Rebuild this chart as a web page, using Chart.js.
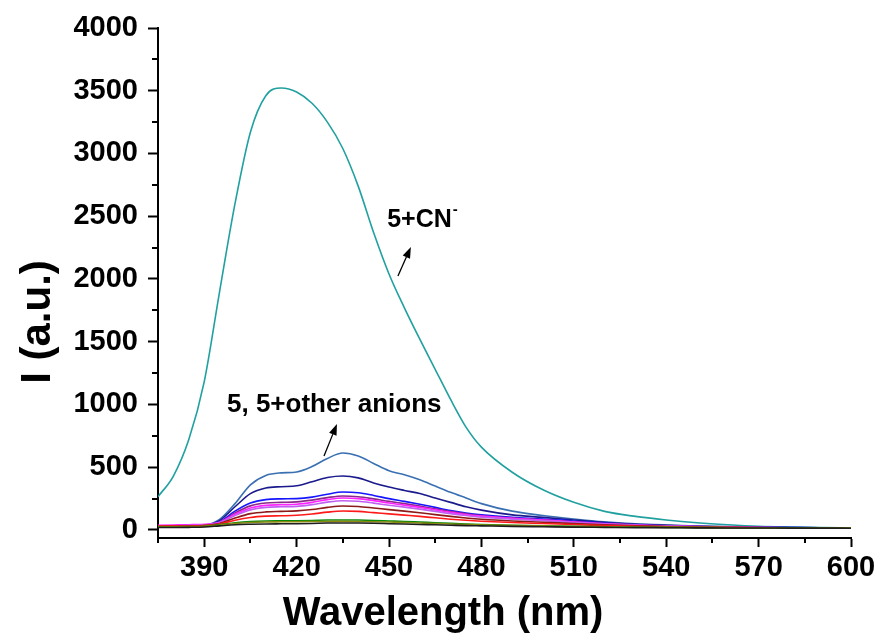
<!DOCTYPE html>
<html>
<head>
<meta charset="utf-8">
<script src="https://cdn.jsdelivr.net/npm/chart.js@4.4.1/dist/chart.umd.min.js"></script>
<style>
  html, body { margin: 0; padding: 0; background: #fff; }
  #wrap { width: 881px; height: 641px; position: relative; }
</style>
</head>
<body>
<div id="wrap"><canvas id="c" width="881" height="641"></canvas></div>
<script>
// ---- data ----
const wavelengths = [375,380,385,390,395,400,405,410,415,420,425,430,435,440,445,450,455,460,465,470,475,480,490,500,510,520,530,540,550,560,570,580,590,600];

const sCN      = [265,430,720,1180,1900,2600,3170,3460,3522,3490,3400,3250,3040,2740,2370,2040,1770,1520,1280,1040,820,660,460,320,220,148,108,80,58,42,30,24,20,17];
const sSteel   = [22,22,25,35,85,210,360,435,455,462,505,570,613,590,530,472,440,400,350,300,255,210,150,115,88,65,50,40,32,27,23,20,18,17];
const sNavy    = [22,22,25,33,75,185,290,335,345,352,385,418,430,415,375,342,315,290,255,220,185,158,120,100,80,60,45,37,30,25,22,19,17,16];
const sBlue    = [25,26,28,35,65,150,215,242,248,250,262,285,302,296,275,250,228,205,180,155,135,120,100,88,70,55,42,34,28,24,21,19,17,16];
const sPurple  = [28,29,30,36,60,135,192,215,220,224,238,258,271,265,248,228,210,190,168,146,128,113,95,82,66,52,40,33,27,23,20,18,17,16];
const sMagenta = [38,40,42,46,62,125,175,196,201,205,220,242,255,250,234,215,198,180,160,140,123,110,92,79,64,50,39,32,27,23,20,18,17,16];
const sViolet  = [32,33,35,40,58,115,160,180,185,188,202,222,233,229,214,197,182,166,148,130,115,102,86,74,60,47,37,31,26,22,19,18,17,16];
const sMaroon  = [30,31,32,36,52,95,130,144,148,152,163,180,191,187,175,162,150,137,122,108,96,86,72,62,51,41,33,28,24,21,19,17,16,15];
const sRed     = [30,31,32,35,48,78,100,110,113,117,127,142,151,148,138,128,118,108,97,86,77,70,59,51,43,35,29,25,22,20,18,17,16,15];
const sGreen   = [26,26,27,30,42,58,68,72,73,74,76,79,80,79,76,72,68,63,58,53,48,44,38,33,29,26,23,21,19,18,17,16,16,15];
const sOlive   = [24,24,25,28,38,52,60,64,65,66,67,68,69,68,66,63,59,55,51,47,43,40,35,31,27,24,22,20,19,18,17,16,15,15];
const sBlack   = [20,20,21,24,33,42,46,48,49,50,52,55,56,55,53,50,47,44,41,38,35,33,29,26,23,21,19,18,17,16,16,15,15,14];

const seriesNames  = ['5+CN-','s1','s2','s3','s4','s5','s6','s7','s8','s9','s10','s11'];
const seriesValues = [sCN, sSteel, sNavy, sBlue, sPurple, sMagenta, sViolet, sMaroon, sRed, sGreen, sOlive, sBlack];
const seriesColors = ['#21a0a0','#3a70b2','#1a1a8c','#1515ff','#8a2a8a','#ff22ff','#c060f0','#8b1a1a','#ff1a1a','#0a8a0a','#8a8a10','#1e1e1e'];

const xTickValues = [390,420,450,480,510,540,570,600];
const yTickValues = [0,500,1000,1500,2000,2500,3000,3500,4000];

const xTitle = 'Wavelength (nm)';
const yTitle = 'I (a.u.)';
const FONT = '"Liberation Sans", Arial, Helvetica, sans-serif';

// annotation anchors in data coordinates
const notes = [
  { text: '5+CN', sup: '-', x: 449.4, y: 2414, size: 25 },
  { text: '5, 5+other anions', x: 397.4, y: 940, size: 26 }
];
const arrows = [
  { x0: 452.9, y0: 2024, x1: 457.1, y1: 2255 },
  { x0: 428.9, y0: 590,  x1: 433.1, y1: 845 }
];

const datasets = seriesValues.map((vals, i) => ({
  label: seriesNames[i],
  data: wavelengths.map((w, k) => ({ x: w, y: vals[k] })),
  borderColor: seriesColors[i],
  backgroundColor: seriesColors[i],
  borderWidth: 1.6,
  pointRadius: 0,
  fill: false,
  cubicInterpolationMode: 'monotone'
})).reverse();

const extras = {
  id: 'extras',
  afterDraw(chart) {
    const ctx = chart.ctx;
    const xs = chart.scales.x, ys = chart.scales.y;
    ctx.save();
    ctx.strokeStyle = '#000';
    ctx.lineWidth = 2;
    // minor ticks
    for (let v = 250; v < 4000; v += 500) {
      const py = Math.round(ys.getPixelForValue(v));
      ctx.beginPath(); ctx.moveTo(xs.left - 6, py); ctx.lineTo(xs.left, py); ctx.stroke();
    }
    for (let v = 375; v < 600; v += 30) {
      const px = Math.round(xs.getPixelForValue(v));
      ctx.beginPath(); ctx.moveTo(px, ys.bottom); ctx.lineTo(px, ys.bottom + 5); ctx.stroke();
    }
    // axis titles
    ctx.fillStyle = '#000';
    ctx.font = 'bold 40px ' + FONT;
    ctx.textAlign = 'center';
    ctx.textBaseline = 'alphabetic';
    ctx.fillText(xTitle, 443, 625);
    ctx.save();
    ctx.translate(50, 322);
    ctx.rotate(-Math.PI / 2);
    ctx.font = 'bold 42px ' + FONT;
    ctx.fillText(yTitle, 0, 0);
    ctx.restore();
    // annotations
    ctx.textAlign = 'left';
    notes.forEach(n => {
      const px = xs.getPixelForValue(n.x), py = ys.getPixelForValue(n.y);
      ctx.font = 'bold ' + n.size + 'px ' + FONT;
      ctx.fillText(n.text, px, py);
      if (n.sup) {
        const w = ctx.measureText(n.text).width;
        ctx.font = 'bold 15px ' + FONT;
        ctx.fillText(n.sup, px + w + 1, py - 13);
      }
    });
    // arrows
    ctx.lineWidth = 1.3;
    arrows.forEach(a => {
      const x0 = xs.getPixelForValue(a.x0), y0 = ys.getPixelForValue(a.y0);
      const x1 = xs.getPixelForValue(a.x1), y1 = ys.getPixelForValue(a.y1);
      const ang = Math.atan2(y1 - y0, x1 - x0);
      const hl = 11, hw = 4;
      const bx = x1 - hl * Math.cos(ang), by = y1 - hl * Math.sin(ang);
      ctx.beginPath(); ctx.moveTo(x0, y0); ctx.lineTo(bx, by); ctx.stroke();
      ctx.beginPath();
      ctx.moveTo(x1, y1);
      ctx.lineTo(bx + hw * Math.sin(ang), by - hw * Math.cos(ang));
      ctx.lineTo(bx - hw * Math.sin(ang), by + hw * Math.cos(ang));
      ctx.closePath(); ctx.fill();
    });
    ctx.restore();
  }
};

new Chart(document.getElementById('c'), {
  type: 'line',
  data: { datasets },
  options: {
    responsive: false,
    animation: false,
    layout: { padding: { left: 0, right: 30, top: 28, bottom: 0 } },
    plugins: { legend: { display: false }, tooltip: { enabled: false } },
    scales: {
      x: {
        type: 'linear', min: 375, max: 600,
        afterBuildTicks(s) { s.ticks = xTickValues.map(v => ({ value: v })); },
        ticks: { color: '#000', padding: 4, maxRotation: 0, autoSkip: false,
                 callback: v => String(v),
                 font: { family: FONT, size: 29, weight: 'bold' } },
        grid: { drawOnChartArea: false, tickLength: 9, tickWidth: 2, tickColor: '#000' },
        border: { display: true, color: '#000', width: 2 },
        afterFit(s) { s.height = 103; }
      },
      y: {
        type: 'linear', min: -64, max: 4000,
        afterBuildTicks(s) { s.ticks = yTickValues.map(v => ({ value: v })); },
        ticks: { color: '#000', padding: 10, autoSkip: false,
                 callback: v => String(v),
                 font: { family: FONT, size: 29, weight: 'bold' } },
        grid: { drawOnChartArea: false, tickLength: 10, tickWidth: 2, tickColor: '#000' },
        border: { display: true, color: '#000', width: 2 },
        afterFit(s) { s.width = 158; }
      }
    }
  },
  plugins: [extras]
});
</script>
</body>
</html>
